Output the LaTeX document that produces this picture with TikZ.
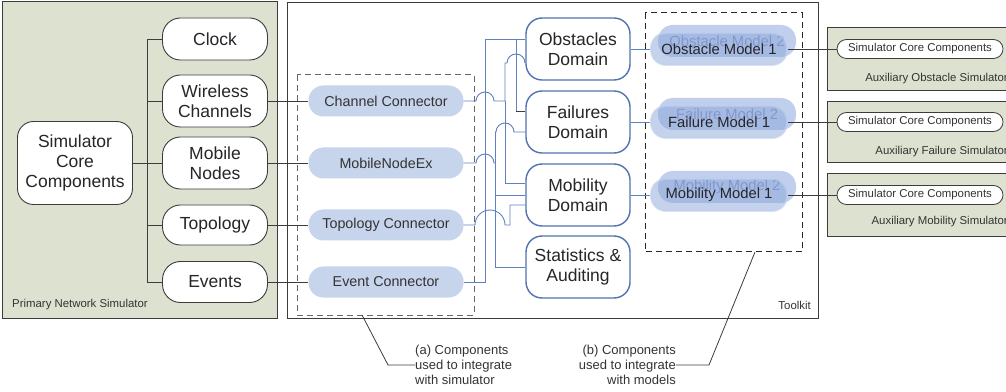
\documentclass[tikz,border=0pt]{standalone}
\usepackage{fontspec}
\setmainfont{Liberation Sans}
\usetikzlibrary{calc}

\definecolor{simgreen}{RGB}{221,226,208}
\definecolor{edgegray}{RGB}{60,60,60}
\definecolor{wireblue}{RGB}{95,130,190}
\definecolor{domblue}{RGB}{80,115,175}
\definecolor{connfill}{RGB}{198,212,236}
\definecolor{modelfill}{RGB}{140,166,218}
\definecolor{modelback}{RGB}{192,207,238}
\definecolor{fadetext}{RGB}{120,138,182}

\newcommand{\boxfont}{\fontsize{17.5}{20}\selectfont}
\newcommand{\connfont}{\fontsize{14.3}{16}\selectfont}
\newcommand{\smallfont}{\fontsize{11.4}{13}\selectfont}

\tikzset{
  panel/.style={draw=edgegray, line width=1},
  simbox/.style={draw=edgegray, fill=white, line width=0.9, rounded corners=18,
    align=center, inner sep=0, font=\boxfont, text=black!85},
  conn/.style={fill=connfill, rounded corners=15, minimum width=155, minimum height=31,
    inner sep=0, font=\connfont, text=black!80},
  dombox/.style={draw=domblue, fill=white, line width=1.4, rounded corners=16,
    minimum width=104, minimum height=62, align=center, inner sep=0, font=\boxfont, text=black!85},
  mback/.style={fill=modelback, rounded corners=15, minimum width=138, minimum height=32,
    inner sep=0, font=\fontsize{14.8}{16}\selectfont, text=fadetext},
  mfront/.style={fill=modelfill, fill opacity=0.5, draw opacity=0.6, text opacity=1, draw=modelback,
    line width=2, rounded corners=15, minimum width=136, minimum height=32, inner sep=0,
    font=\fontsize{14.8}{16}\selectfont, text=black!85},
  auxcore/.style={draw=edgegray, fill=white, line width=0.8, rounded corners=9.5,
    minimum width=166, minimum height=19, inner sep=0, font=\smallfont, text=black!80},
  lbl/.style={font=\smallfont, text=black!80, inner sep=0},
  note/.style={font=\fontsize{13}{15}\selectfont, text=black!80, inner sep=0},
  link/.style={draw=edgegray, line width=0.9},
  wire/.style={draw=wireblue, line width=0.9},
  dashbox/.style={line width=1, dash pattern=on 6 off 4}
}

\begin{document}
\begin{tikzpicture}[x=1pt, y=1pt]
  %%%%% START %%%%%
  \useasboundingbox (0,0) rectangle (1006,391);

  % panels
  \draw[panel, fill=simgreen] (2,389) rectangle (277,73);
  \draw[panel, fill=white] (287,388) rectangle (818,73);
  \draw[panel, fill=simgreen] (827,363) rectangle (1012,300);
  \draw[panel, fill=simgreen] (827,289) rectangle (1012,228);
  \draw[panel, fill=simgreen] (827,217) rectangle (1012,154);
  \node[lbl, anchor=west] (pnslbl) at (12,86) {Primary Network Simulator};
  \node[lbl, anchor=east] (tklbl) at (811,86) {Toolkit};
  \node[lbl, anchor=east] (auxobs) at (1008,312) {Auxiliary Obstacle Simulator};
  \node[lbl, anchor=east] (auxfail) at (1008,239) {Auxiliary Failure Simulator};
  \node[lbl, anchor=east] (auxmob) at (1008,169) {Auxiliary Mobility Simulator};

  % dashed groups
  \draw[dashbox, draw=black!60] (297,316) rectangle (474,76);
  \draw[dashbox, draw=black!85] (645,378) rectangle (802,139);

  % primary simulator
  \node[simbox, minimum width=115, minimum height=83, rounded corners=16] (core) at (75,228) {Simulator\\Core\\Components};
  \node[simbox, minimum width=105, minimum height=42] (clock) at (215,352) {Clock};
  \node[simbox, minimum width=105, minimum height=52] (wireless) at (215,290) {Wireless\\Channels};
  \node[simbox, minimum width=105, minimum height=52] (mobile) at (215,228) {Mobile\\Nodes};
  \node[simbox, minimum width=105, minimum height=40] (topology) at (215,166) {Topology};
  \node[simbox, minimum width=105, minimum height=41] (events) at (215,109) {Events};

  \coordinate (trunk) at (147,0);
  \draw[link] (clock.west) -| (trunk |- events.west) -- (events.west);
  \foreach \n in {wireless, mobile, topology}
    \draw[link] (trunk |- \n.west) -- (\n.west);
  \draw[link] (core.east) -- (trunk |- core.east);

  % connectors
  \node[conn] (chan) at (386,290) {Channel Connector};
  \node[conn] (mne) at (386,228) {MobileNodeEx};
  \node[conn] (topc) at (386,166) {Topology Connector};
  \node[conn] (evc) at (386,109) {Event Connector};
  \draw[link] (wireless.east) -- (chan.west);
  \draw[link] (mobile.east) -- (mne.west);
  \draw[link] (topology.east) -- (topc.west);
  \draw[link] (events.east) -- (evc.west);

  % domains
  \node[dombox] (obs) at (578,342) {Obstacles\\Domain};
  \node[dombox] (fail) at (578,269) {Failures\\Domain};
  \node[dombox] (mob) at (578,196) {Mobility\\Domain};
  \node[dombox] (stats) at (578,124) {Statistics \&\\Auditing};

  % wiring between connectors and domains
  \coordinate (busA) at (485,0);
  \coordinate (busB) at (495,0);
  \coordinate (busC) at (505,0);
  \coordinate (busD) at (516,0);
  \coordinate (obsIn) at ($(obs.west)+(0,10)$);
  \coordinate (obsIn2) at ($(obs.west)+(0,-14)$);
  \coordinate (failIn) at ($(fail.west)+(0,11)$);
  \coordinate (failIn2) at ($(fail.west)+(0,-10)$);
  \coordinate (mobIn) at ($(mob.west)+(0,12)$);
  \coordinate (mobIn2) at ($(mob.west)+(0,-10)$);

  \draw[wire] (evc.east) -| (busA |- obsIn) -- (obsIn);
  \draw[wire] (busD |- obsIn) -- (busD |- failIn);
  \draw[link] (busD |- failIn) -- (failIn);

  \draw[wire] (chan.east) -- ($(busA |- chan.east)+(-9,0)$) arc[start angle=180, end angle=0, radius=9]
    -- (busC |- chan.east) -- (busC |- obsIn2)
    -- ($(busD |- obsIn2)+(-9,0)$) arc[start angle=180, end angle=0, radius=9] -- (obsIn2);
  \draw[wire] (busC |- chan.east) -- (busC |- mobIn) -- (mobIn);

  \draw[wire] (mne.east) -- ($(busA |- mne.east)+(-9,0)$) arc[start angle=180, end angle=0, radius=9]
    -- (busB |- mne.east);
  \draw[wire] (busB |- failIn2) -- ($(busC |- failIn2)+(-9,0)$) arc[start angle=180, end angle=0, radius=9]
    -- (failIn2);
  \draw[wire] (busB |- failIn2) -- (busB |- stats.west) -- (stats.west);
  \draw[wire] (busB |- mob.west) -- (mob.west);

  \draw[wire] (topc.east) -- ($(busA |- topc.east)+(-10,0)$) arc[start angle=180, end angle=0, radius=15]
    -- ($(busC |- topc.east)+(5,0)$) |- (mobIn2);

  % models
  \node[mback] (obsm2) at (727,350) {Obstacle Model 2};
  \node[mfront] (obsm1) at (719,342) {Obstacle Model 1};
  \node[mback] (failm2) at (727,277) {Failure Model 2};
  \node[mfront] (failm1) at (719,269) {Failure Model 1};
  \node[mback] (mobm2) at (727,204) {Mobility Model 2};
  \node[mfront] (mobm1) at (719,196) {Mobility Model 1};

  % auxiliary simulators
  \node[auxcore] (obscore) at (920,342) {Simulator Core Components};
  \node[auxcore] (failcore) at (920,269) {Simulator Core Components};
  \node[auxcore] (mobcore) at (920,196) {Simulator Core Components};

  \draw[wire] (obs.east) -- (obsm1.west);
  \draw[wire] (fail.east) -- (failm1.west);
  \draw[wire] (mob.east) -- (mobm1.west);
  \draw[link] (obsm1.east) -- (obscore.west);
  \draw[link] (failm1.east) -- (failcore.west);
  \draw[link] (mobm1.east) -- (mobcore.west);

  % callouts
  \node[note, anchor=west, align=left] (notea) at (415,26) {(a) Components\\used to integrate\\with simulator};
  \node[note, anchor=east, align=right] (noteb) at (676,26) {(b) Components\\used to integrate\\with models};
  \coordinate (tipa) at (362,76);
  \coordinate (tipb) at (755,139);
  \draw[link, line width=0.8] (tipa) -- (388,26) -- (notea.west);
  \draw[link, line width=0.8] (tipb) -- (709,26) -- (noteb.east);
  %%%%% END %%%%%
\end{tikzpicture}
\end{document}
